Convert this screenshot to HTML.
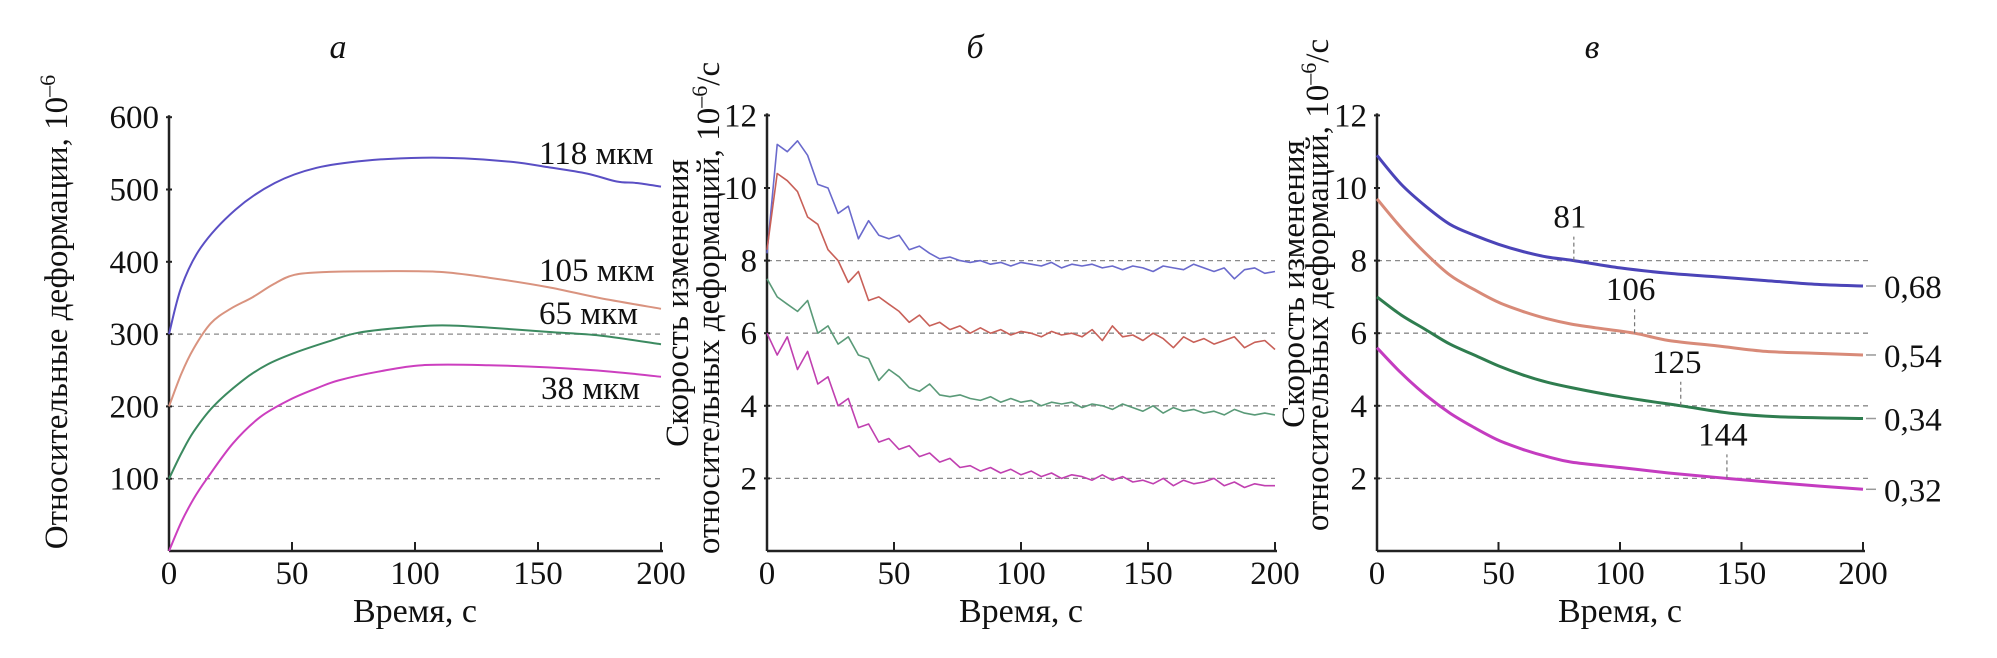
<!DOCTYPE html>
<html><head><meta charset="utf-8"><style>
html,body{margin:0;padding:0;background:#fff;}
svg{display:block;}
text{font-family:"Liberation Serif",serif;fill:#111;}
</style></head><body>
<svg id="chart" width="1997" height="658" viewBox="0 0 1997 658" xmlns="http://www.w3.org/2000/svg">
<text x="338" y="58" font-size="34" font-style="italic" text-anchor="middle">а</text>
<text x="975" y="58" font-size="34" font-style="italic" text-anchor="middle">б</text>
<text x="1592" y="58" font-size="34" font-style="italic" text-anchor="middle">в</text>
<text transform="translate(67,312) rotate(-90)" font-size="33" text-anchor="middle">Относительные деформации, 10<tspan dy="-12" font-size="22">–6</tspan></text>
<text transform="translate(688,303) rotate(-90)" font-size="33" text-anchor="middle">Скорость изменения</text>
<text transform="translate(719,308) rotate(-90)" font-size="33" text-anchor="middle">относительных деформаций, 10<tspan dy="-12" font-size="22">–6</tspan><tspan dy="12">/с</tspan></text>
<text transform="translate(1304,284) rotate(-90)" font-size="33" text-anchor="middle">Скорость изменения</text>
<text transform="translate(1328,285) rotate(-90)" font-size="33" text-anchor="middle">относительных деформаций, 10<tspan dy="-12" font-size="22">–6</tspan><tspan dy="12">/с</tspan></text>
<g id="plots"></g>
</svg>
<script>
// Panel a data
const aT_blue=[0,5,13,27,43,60,80,103,120,140,154,170,182,190,200];
const aV_blue=[300,365,420,472,509,530,540,544,543,538,531,522,511,509,504];
const aT_orange=[0,5,10,17,25,34,42,51,65,86,110,130,154,175,200];
const aV_orange=[200,245,280,315,335,351,368,382,386,387,386,378,365,350,335];
const aT_green=[0,5,10,18,30,40,51,65,77,95,111,130,154,175,200];
const aV_green=[100,135,165,200,236,258,274,290,302,309,312,309,303,298,286];
const aT_magenta=[0,5,10,15,26,37,49,60,69,85,103,130,154,180,200];
const aV_magenta=[0,40,72,98,149,185,209,225,236,248,257,257,254,248,241];
const aLabels=["118 мкм","105 мкм","65 мкм","38 мкм"];
const aYTicks=[100,200,300,400,500,600];
const aGrid=[100,200,300];
const xTicks=[0,50,100,150,200];
// Panel b data (t step 4)
const bT=[0,4,8,12,16,20,24,28,32,36,40,44,48,52,56,60,64,68,72,76,80,84,88,92,96,100,104,108,112,116,120,124,128,132,136,140,144,148,152,156,160,164,168,172,176,180,184,188,192,196,200];
const bV_blue=[8.2,11.2,11.0,11.3,10.9,10.1,10.0,9.3,9.5,8.6,9.1,8.7,8.6,8.7,8.3,8.4,8.2,8.05,8.1,8.0,7.95,8.0,7.9,7.95,7.85,7.95,7.9,7.85,7.95,7.8,7.9,7.85,7.9,7.8,7.85,7.75,7.85,7.8,7.7,7.85,7.8,7.75,7.9,7.8,7.7,7.8,7.5,7.75,7.8,7.65,7.7];
const bV_red=[8.3,10.4,10.2,9.9,9.2,9.0,8.3,8.0,7.4,7.7,6.9,7.0,6.8,6.6,6.3,6.5,6.2,6.3,6.1,6.2,6.0,6.15,6.0,6.1,5.95,6.05,6.0,5.9,6.05,5.95,6.0,5.9,6.1,5.8,6.2,5.9,5.95,5.8,6.0,5.85,5.6,5.9,5.75,5.85,5.7,5.8,5.9,5.6,5.75,5.8,5.55];
const bV_green=[7.5,7.0,6.8,6.6,6.9,6.0,6.2,5.7,5.9,5.4,5.3,4.7,5.0,4.8,4.5,4.4,4.6,4.3,4.25,4.3,4.2,4.15,4.25,4.1,4.2,4.1,4.15,4.0,4.1,4.05,4.1,3.95,4.05,4.0,3.9,4.05,3.95,3.85,4.0,3.8,3.95,3.85,3.9,3.8,3.85,3.75,3.9,3.8,3.75,3.8,3.75];
const bV_magenta=[6.0,5.4,5.9,5.0,5.5,4.6,4.8,4.0,4.2,3.4,3.5,3.0,3.1,2.8,2.9,2.6,2.7,2.45,2.55,2.3,2.35,2.2,2.3,2.15,2.25,2.1,2.2,2.05,2.15,2.0,2.1,2.05,1.95,2.1,1.95,2.05,1.9,1.95,1.85,2.0,1.8,1.95,1.85,1.9,2.0,1.8,1.9,1.75,1.85,1.8,1.8];
const rYTicks=[2,4,6,8,10,12];
const rGrid=[2,4,6,8];
// Panel c data
const cT_blue=[0,10,20,30,40,50,60,70,81,100,120,140,160,180,200];
const cV_blue=[10.9,10.1,9.5,9.0,8.7,8.45,8.25,8.1,8.0,7.8,7.65,7.55,7.45,7.35,7.3];
const cT_orange=[0,10,20,30,40,50,60,70,80,90,106,120,140,160,180,200];
const cV_orange=[9.7,8.9,8.2,7.6,7.2,6.85,6.6,6.4,6.25,6.15,6.0,5.8,5.65,5.5,5.45,5.4];
const cT_green=[0,10,20,30,40,50,60,70,80,100,125,145,165,200];
const cV_green=[7.0,6.5,6.1,5.7,5.4,5.1,4.85,4.65,4.5,4.25,4.0,3.8,3.7,3.65];
const cT_magenta=[0,10,20,30,40,50,60,70,80,100,120,144,170,200];
const cV_magenta=[5.6,4.9,4.3,3.8,3.4,3.05,2.8,2.6,2.45,2.3,2.15,2.0,1.85,1.7];
const cMarks=[81,106,125,144];
const cMarkVals=[8,6,4,2];
const cEndLabels=["0,68","0,54","0,34","0,32"];

const NS="http://www.w3.org/2000/svg";
const root=document.getElementById('plots');
function mk(tag,attrs,parent){const e=document.createElementNS(NS,tag);for(const k in attrs)e.setAttribute(k,attrs[k]);(parent||root).appendChild(e);return e;}
const BASE=551;
const P={
 a:{x0:169,x1:661,k:0.723},
 b:{x0:767,x1:1275,k:36.3},
 c:{x0:1377,x1:1863,k:36.3}
};
function xs(p,t){return p.x0+t*(p.x1-p.x0)/200;}
function ys(p,v){return BASE-v*p.k;}
function path(p,T,V){return T.map((t,i)=>(i?'L':'M')+xs(p,t).toFixed(1)+','+ys(p,V[i]).toFixed(1)).join(' ');}
function smooth(p,T,V){
 const pts=T.map((t,i)=>[xs(p,t),ys(p,V[i])]);
 let d='M'+pts[0][0]+','+pts[0][1];
 for(let i=0;i<pts.length-1;i++){
  const p0=pts[i-1]||pts[i],p1=pts[i],p2=pts[i+1],p3=pts[i+2]||p2;
  const c1=[p1[0]+(p2[0]-p0[0])/6,p1[1]+(p2[1]-p0[1])/6];
  const c2=[p2[0]-(p3[0]-p1[0])/6,p2[1]-(p3[1]-p1[1])/6];
  d+=' C'+c1[0].toFixed(1)+','+c1[1].toFixed(1)+' '+c2[0].toFixed(1)+','+c2[1].toFixed(1)+' '+p2[0].toFixed(1)+','+p2[1].toFixed(1);
 }
 return d;
}
function axes(p,name,yt,grid,gridEnd,showX0){
 grid.forEach(v=>{
  const g=mk('line',{x1:p.x0,x2:gridEnd,y1:ys(p,v),y2:ys(p,v),stroke:'#8a8a8a','stroke-width':1.3,'stroke-dasharray':'5,4'});
  
  
 });
 const ya=mk('line',{x1:p.x0,x2:p.x0,y1:BASE,y2:ys(p,yt[yt.length-1])-2,stroke:'#222','stroke-width':2.5});
 
 
 const xa=mk('line',{x1:p.x0,x2:p.x1+2,y1:BASE,y2:BASE,stroke:'#222','stroke-width':2.5});
 
 
 yt.forEach(v=>{
  mk('line',{x1:p.x0-3,x2:p.x0+3,y1:ys(p,v),y2:ys(p,v),stroke:'#222','stroke-width':2});
  const t=mk('text',{x:p.x0-10,y:ys(p,v)+11,'font-size':33,'text-anchor':'end'});
  t.textContent=v;
  
  
 });
 xTicks.forEach(v=>{
  mk('line',{x1:xs(p,v),x2:xs(p,v),y1:BASE,y2:BASE-9,stroke:'#222','stroke-width':2});
  const t=mk('text',{x:xs(p,v),y:BASE+33,'font-size':33,'text-anchor':'middle'});
  t.textContent=v;
  
  
 });
 const xt=mk('text',{x:(p.x0+p.x1)/2,y:BASE+71,'font-size':34,'text-anchor':'middle'});
 xt.textContent='Время, с';
 
 
}
axes(P.a,'panel-a',aYTicks,aGrid,661);
axes(P.b,'panel-b',rYTicks,rGrid,1275);
axes(P.c,'panel-c',rYTicks,rGrid,1870);

// panel a series
const aSeries=[[aT_blue,aV_blue,'#5a4fc4'],[aT_orange,aV_orange,'#d9937f'],[aT_green,aV_green,'#3c8a60'],[aT_magenta,aV_magenta,'#cc3fbf']];
aSeries.forEach((s,i)=>{
 const e=mk('path',{d:smooth(P.a,s[0],s[1]),fill:'none',stroke:s[2],'stroke-width':2});
 
 
});
const aLabY=[164,281,324,399];
const aLabX=[539,539,539,541];
aLabels.forEach((l,i)=>{
 const t=mk('text',{x:aLabX[i],y:aLabY[i],'font-size':33});
 t.textContent=l;
 
 
});
// panel b series
const bSeries=[[bV_blue,'#6a6acc'],[bV_red,'#c86058'],[bV_green,'#5a9a78'],[bV_magenta,'#c040b0']];
bSeries.forEach((s,i)=>{
 const e=mk('path',{d:path(P.b,bT,s[0]),fill:'none',stroke:s[1],'stroke-width':1.6,'stroke-linejoin':'round'});
 
 
});
// panel c series
const cSeries=[[cT_blue,cV_blue,'#4b44b8'],[cT_orange,cV_orange,'#d88a78'],[cT_green,cV_green,'#2f7d4f'],[cT_magenta,cV_magenta,'#c43cc0']];
cSeries.forEach((s,i)=>{
 const e=mk('path',{d:smooth(P.c,s[0],s[1]),fill:'none',stroke:s[2],'stroke-width':3});
 
 
 const last=s[1][s[1].length-1];
 mk('line',{x1:1866,x2:1876,y1:ys(P.c,last),y2:ys(P.c,last),stroke:'#999','stroke-width':1.5});
 const t=mk('text',{x:1884,y:ys(P.c,last)+12,'font-size':33});
 t.textContent=cEndLabels[i];
 
 
});
cMarks.forEach((m,i)=>{
 const x=xs(P.c,m), y=ys(P.c,cMarkVals[i]);
 mk('line',{x1:x,x2:x,y1:y,y2:y-24,stroke:'#777','stroke-width':1.2,'stroke-dasharray':'4,3'});
 const t=mk('text',{x:x-4,y:y-33,'font-size':33,'text-anchor':'middle'});
 t.textContent=m;
 
 
});
</script>
</body></html>
